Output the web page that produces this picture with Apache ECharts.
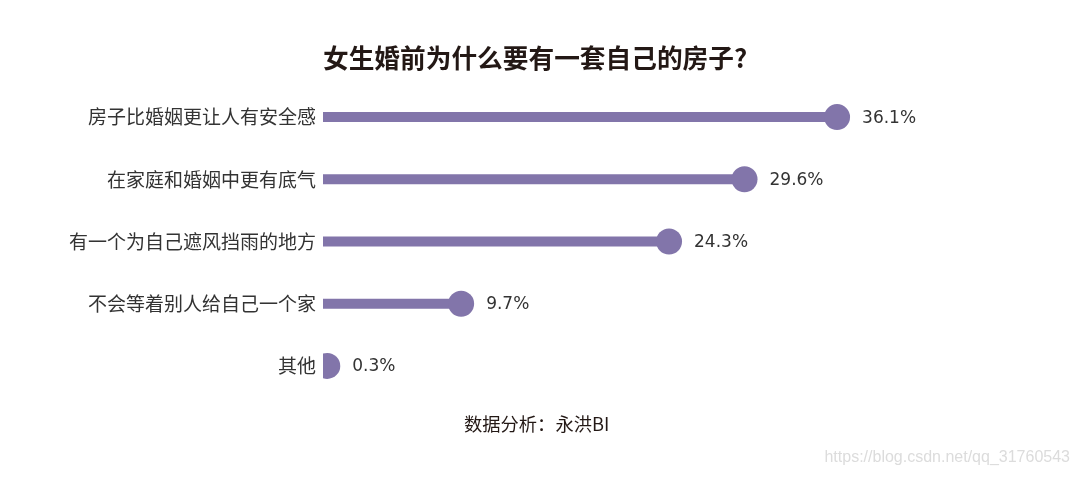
<!DOCTYPE html>
<html>
<head>
<meta charset="utf-8">
<script src="https://cdn.jsdelivr.net/npm/echarts@6/dist/echarts.min.js"></script>
<style>
html,body{margin:0;padding:0;background:#fff;}
#chart{width:1080px;height:477px;}
</style>
</head>
<body>
<div id="chart"></div>
<script>
const categories = ['房子比婚姻更让人有安全感', '在家庭和婚姻中更有底气', '有一个为自己遮风挡雨的地方', '不会等着别人给自己一个家', '其他'];
const values = [36.1, 29.6, 24.3, 9.7, 0.3];
const titleText = '女生婚前为什么要有一套自己的房子?';
const sourceText = '数据分析：永洪BI';
const watermarkText = 'https://blog.csdn.net/qq_31760543';

const color = '#8275AA';
const chart = echarts.init(document.getElementById('chart'), null, {renderer: 'canvas'});
chart.setOption({
  backgroundColor: '#ffffff',
  animation: false,
  title: [
    {
      text: titleText,
      left: 318, top: 40,
      textStyle: {fontFamily: 'Noto Sans CJK SC', fontSize: 25.7, fontWeight: 'bold', color: '#231815'}
    },
    {
      text: sourceText,
      left: 459, top: 410,
      textStyle: {fontFamily: 'Noto Sans CJK SC', fontSize: 18.3, fontWeight: 'normal', color: '#231815'}
    }
  ],
  graphic: [{
    type: 'text', right: 10, top: 450,
    style: {text: watermarkText, font: '16px "Liberation Sans", Arial, sans-serif', fill: '#dcdcdc'}
  }],
  grid: {left: 323, top: 86, width: 712, height: 311, containLabel: false},
  xAxis: {
    type: 'value', min: 0, max: 50,
    show: false
  },
  yAxis: {
    type: 'category', data: categories, inverse: true,
    axisLine: {show: false}, axisTick: {show: false}, splitLine: {show: false},
    axisLabel: {fontFamily: 'Noto Sans CJK SC', fontSize: 19, color: '#333333', margin: 7}
  },
  series: [
    {
      type: 'bar', data: values, barWidth: 10,
      itemStyle: {color: color},
      z: 1
    },
    {
      type: 'custom',
      data: values.map((v, i) => [v, i]),
      encode: {x: 0, y: 1},
      z: 2,
      renderItem: function (params, api) {
        const pt = api.coord([api.value(0), api.value(1)]);
        const cs = params.coordSys;
        return {
          type: 'group',
          children: [
            {
              type: 'circle',
              shape: {cx: pt[0], cy: pt[1], r: 13},
              style: {fill: color},
              clipPath: {type: 'rect', shape: {x: cs.x, y: cs.y, width: cs.width, height: cs.height}}
            },
            {
              type: 'text',
              x: pt[0] + 25, y: pt[1] + 1,
              style: {
                text: api.value(0).toFixed(1) + '%',
                font: '17px "DejaVu Sans"',
                fill: '#333333',
                align: 'left', verticalAlign: 'middle'
              }
            }
          ]
        };
      }
    }
  ]
});
</script>
</body>
</html>
